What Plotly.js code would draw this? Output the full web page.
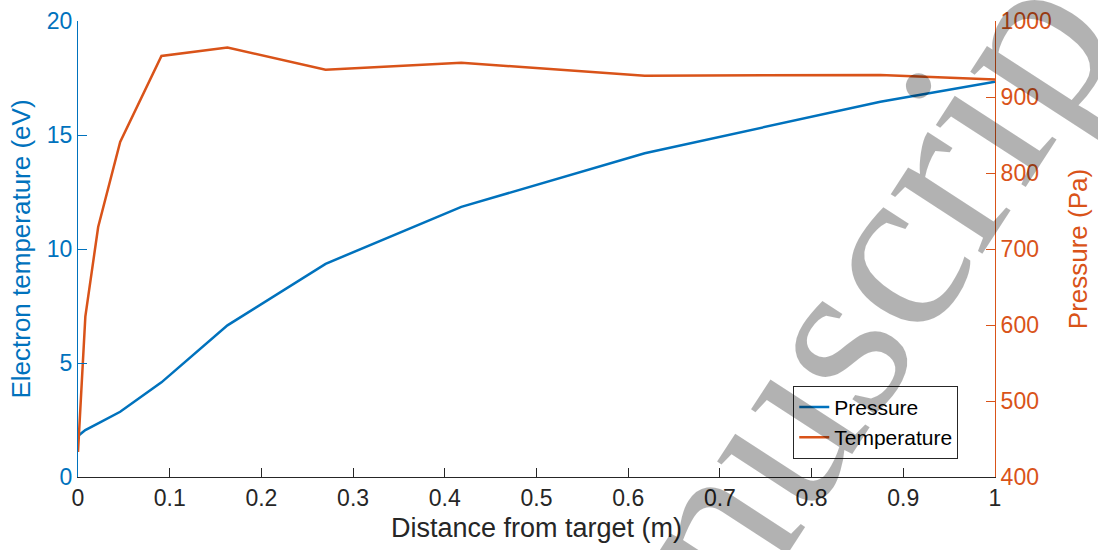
<!DOCTYPE html>
<html>
<head>
<meta charset="utf-8">
<script src="https://cdn.plot.ly/plotly-3.0.1.min.js"></script>
<style>html,body{margin:0;padding:0;background:#fff;}#chart{width:1098px;height:550px;}</style>
</head>
<body>
<div id="chart"></div>
<script>
// Distance from target (m)
const distance = [0, 0.008, 0.022, 0.046, 0.091, 0.163, 0.27, 0.418, 0.618, 0.875, 1];
// Blue series (left axis)
const pressureSeries = [1.8, 2.06, 2.35, 2.86, 4.15, 6.65, 9.35, 11.85, 14.2, 16.46, 17.34];
// Orange series (right axis)
const temperatureSeries = [433, 611, 729, 841, 954, 965, 936, 945, 928, 929, 923];

const xTickVals = [0, 0.1, 0.2, 0.3, 0.4, 0.5, 0.6, 0.7, 0.8, 0.9, 1];
const xTickText = ["0", "0.1", "0.2", "0.3", "0.4", "0.5", "0.6", "0.7", "0.8", "0.9", "1"];
const yLeftTicks = [0, 5, 10, 15, 20];
const yRightTicks = [400, 500, 600, 700, 800, 900, 1000];

const BLUE = '#0072BD', ORANGE = '#D95319', DARK = '#262626';
const FONT = '"Liberation Sans", Arial, Helvetica, sans-serif';

const traces = [
  {x: distance, y: pressureSeries, name: 'Pressure', type: 'scatter', mode: 'lines',
   line: {color: BLUE, width: 2.5}, yaxis: 'y'},
  {x: distance, y: temperatureSeries, name: 'Temperature', type: 'scatter', mode: 'lines',
   line: {color: ORANGE, width: 2.5}, yaxis: 'y2'}
];

const layout = {
  width: 1098, height: 550,
  margin: {l: 78, r: 103, t: 21, b: 73},
  paper_bgcolor: '#fff', plot_bgcolor: '#fff',
  font: {family: FONT, size: 23, color: DARK},
  showlegend: true,
  xaxis: {
    range: [0, 1], tickvals: xTickVals, ticktext: xTickText,
    ticks: 'inside', ticklen: 9, tickcolor: DARK, tickwidth: 1,
    showline: true, linecolor: DARK, linewidth: 1, zeroline: false, showgrid: false,
    tickfont: {size: 23, color: DARK},
    title: {text: 'Distance from target (m)', font: {size: 27, color: DARK}, standoff: 8}
  },
  yaxis: {
    range: [0, 20], tickvals: yLeftTicks,
    ticks: 'inside', ticklen: 9, tickcolor: BLUE, tickwidth: 1,
    showline: true, linecolor: BLUE, linewidth: 1, zeroline: false, showgrid: false,
    tickfont: {size: 23, color: BLUE},
    title: {text: 'Electron temperature (eV)', font: {size: 26, color: BLUE}, standoff: 8}
  },
  yaxis2: {
    range: [400, 1000], tickvals: yRightTicks, overlaying: 'y', side: 'right',
    ticks: 'inside', ticklen: 9, tickcolor: ORANGE, tickwidth: 1,
    showline: true, linecolor: ORANGE, linewidth: 1, zeroline: false, showgrid: false,
    tickfont: {size: 23, color: ORANGE},
    title: {text: 'Pressure (Pa)', font: {size: 26, color: ORANGE}, standoff: 18}
  },
  legend: {
    x: 0.78, y: 0.2, xanchor: 'left', yanchor: 'top',
    bgcolor: '#fff', bordercolor: DARK, borderwidth: 1,
    font: {size: 21, color: '#000'}, tracegroupgap: 0
  },
  annotations: [{
    text: 'Manuscript', xref: 'paper', yref: 'paper', x: 0.784, y: 0.188,
    xanchor: 'center', yanchor: 'middle', showarrow: false, textangle: -57,
    font: {family: '"Liberation Serif", "Times New Roman", serif', size: 238, color: 'rgba(0,0,0,0.3)'}
  }]
};

Plotly.newPlot('chart', traces, layout, {displayModeBar: false, staticPlot: true});
</script>
</body>
</html>
